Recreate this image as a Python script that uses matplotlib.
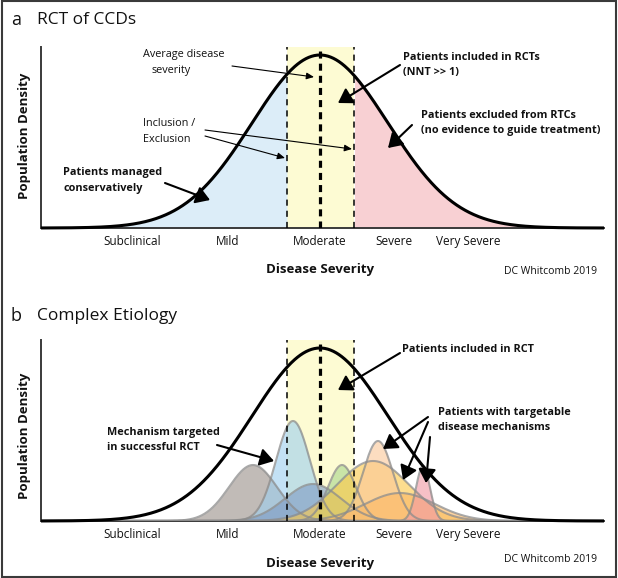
import numpy as np
import matplotlib
matplotlib.use("Agg")
import matplotlib.pyplot as plt
import matplotlib.transforms as mtransforms
from matplotlib.patches import FancyArrowPatch, Rectangle

plt.rcParams['font.family'] = ['Open Sans', 'DejaVu Sans']

W, H = 618, 578

# ---------------- data ----------------
categories = ["Subclinical", "Mild", "Moderate", "Severe", "Very Severe"]
category_pos = [91, 187, 279, 353, 427]          # severity axis units
population_mean = 279
population_sd = 68
population_peak = 173
rct_window = [246, 313]                          # inclusion / exclusion bounds
x_max = 563
y_max = 181

# disease mechanism sub-populations (panel b)
mech_centers = [212, 252, 272, 301, 332, 337, 359, 382]
mech_sds = [24, 17, 28, 14, 36, 15, 35, 7]
mech_peaks = [56, 100, 37, 56, 60, 80, 28, 55]
mech_colors = ['#9b928c', '#9fd0ef', '#7f9cc4', '#a9d68c',
               '#fdc94a', '#fbc89a', '#fbb866', '#f29aa6']


def density(x, m, s, h):
    return h * np.exp(-0.5 * ((x - m) / s) ** 2)


fig = plt.figure(figsize=(W / 100, H / 100), dpi=100)
px = mtransforms.Affine2D().scale(1 / W, -1 / H).translate(0, 1) + fig.transFigure

# frame
fig.patches.append(Rectangle((1.5, 1), W - 4, H - 2.5, transform=px, fill=False,
                             edgecolor='#3a3a3a', lw=1.5))


def txt(x, y, s, size=8, weight='normal', ha='left', va='center', **kw):
    fig.text(x, y, s, transform=px, fontsize=size, fontweight=weight,
             ha=ha, va=va, color='#111111', **kw)


def arrow(x0, y0, x1, y1, bold=False):
    if bold:
        a = FancyArrowPatch((x0, y0), (x1, y1), transform=px,
                            arrowstyle='-|>,head_length=0.6,head_width=0.38',
                            mutation_scale=14, lw=1.5, color='black',
                            shrinkA=0, shrinkB=0)
    else:
        a = FancyArrowPatch((x0, y0), (x1, y1), transform=px,
                            arrowstyle='-|>,head_length=0.5,head_width=0.22',
                            mutation_scale=9, lw=0.8, color='black',
                            shrinkA=0, shrinkB=0)
    fig.patches.append(a)


def make_axes(top_px, base_px):
    ax = fig.add_axes([41 / W, 1 - base_px / H, x_max / W, (base_px - top_px) / H])
    ax.set_xlim(0, x_max)
    ax.set_ylim(0, y_max)
    for sp in ['top', 'right']:
        ax.spines[sp].set_visible(False)
    for sp in ['left', 'bottom']:
        ax.spines[sp].set_color('#3a3a3a')
        ax.spines[sp].set_linewidth(1.4)
    ax.set_yticks([])
    ax.set_xticks(category_pos)
    ax.set_xticklabels(categories, fontsize=8.5, color='#111111')
    ax.tick_params(axis='x', length=0, pad=5)
    ax.patch.set_alpha(0)
    return ax


x = np.linspace(0, x_max, 800)
pop = density(x, population_mean, population_sd, population_peak)


def draw_window(ax):
    ax.axvspan(rct_window[0], rct_window[1], color='#fdfbd3', zorder=0, lw=0)


def draw_dashes(ax):
    for xv in rct_window:
        ax.axvline(xv, color='black', lw=1.1, dashes=(4, 3.3), zorder=6)
    ax.axvline(population_mean, color='black', lw=2.3, dashes=(2.2, 1.6), zorder=6)


# ---------------- panel a ----------------
ax1 = make_axes(47, 228)
draw_window(ax1)
left = x <= rct_window[0]
right = x >= rct_window[1]
ax1.fill_between(x[left], 0, pop[left], color='#dcedf8', lw=0, zorder=1)
ax1.fill_between(x[right], 0, pop[right], color='#f8d0d3', lw=0, zorder=1)
draw_dashes(ax1)
ax1.plot(x, pop, color='black', lw=2.2, zorder=7, clip_on=False, solid_capstyle='butt')

# ---------------- panel b ----------------
ax2 = make_axes(340, 521)
draw_window(ax2)
for m, s, h, c in zip(mech_centers, mech_sds, mech_peaks, mech_colors):
    y = density(x, m, s, h)
    ax2.fill_between(x, 0, y, color=c, alpha=0.62, lw=0, zorder=2)
    ax2.plot(x, y, color='#8c8c8c', lw=1.5, alpha=0.75, zorder=3)
draw_dashes(ax2)
ax2.plot(x, pop, color='black', lw=2.2, zorder=7, clip_on=False, solid_capstyle='butt')

# ---------------- texts panel a ----------------
txt(11, 20, 'a', size=13)
txt(37, 20, 'RCT of CCDs', size=12.5)
txt(25, 136, 'Population Density', size=9.5, weight='bold', ha='center', rotation=90)
txt(320, 269, 'Disease Severity', size=9.5, weight='bold', ha='center')
txt(597, 272, 'DC Whitcomb 2019', size=7.5, ha='right')

txt(143, 55, 'Average disease', size=7.8)
txt(152, 71, 'severity', size=7.8)
arrow(232, 66, 314, 77)

txt(143, 124, 'Inclusion /', size=7.8)
txt(143, 139, 'Exclusion', size=7.8)
arrow(205, 130, 352, 149)
arrow(205, 136, 285, 158)

txt(63, 173, 'Patients managed', size=7.8, weight='bold')
txt(63, 188, 'conservatively', size=7.8, weight='bold')
arrow(165, 183, 210, 200, bold=True)

txt(403, 57, 'Patients included in RCTs', size=7.8, weight='bold')
txt(403, 72, '(NNT >> 1)', size=7.8, weight='bold')
arrow(400, 65, 338, 103, bold=True)

txt(421, 115, 'Patients excluded from RTCs', size=7.8, weight='bold')
txt(421, 130, '(no evidence to guide treatment)', size=7.8, weight='bold')
arrow(412, 125, 388, 148, bold=True)

# ---------------- texts panel b ----------------
txt(11, 316, 'b', size=13)
txt(37, 316, 'Complex Etiology', size=12.5)
txt(25, 436, 'Population Density', size=9.5, weight='bold', ha='center', rotation=90)
txt(320, 563, 'Disease Severity', size=9.5, weight='bold', ha='center')
txt(597, 560, 'DC Whitcomb 2019', size=7.5, ha='right')

txt(402, 350, 'Patients included in RCT', size=7.8, weight='bold')
arrow(400, 353, 338, 390, bold=True)

txt(438, 413, 'Patients with targetable', size=7.8, weight='bold')
txt(438, 428, 'disease mechanisms', size=7.8, weight='bold')
arrow(428, 417, 383, 449, bold=True)
arrow(428, 422, 403, 480, bold=True)
arrow(430, 437, 426, 483, bold=True)

txt(107, 432, 'Mechanism targeted', size=7.8, weight='bold')
txt(107, 447, 'in successful RCT', size=7.8, weight='bold')
arrow(217, 445, 274, 461, bold=True)

fig.savefig('out.png', dpi=100)
